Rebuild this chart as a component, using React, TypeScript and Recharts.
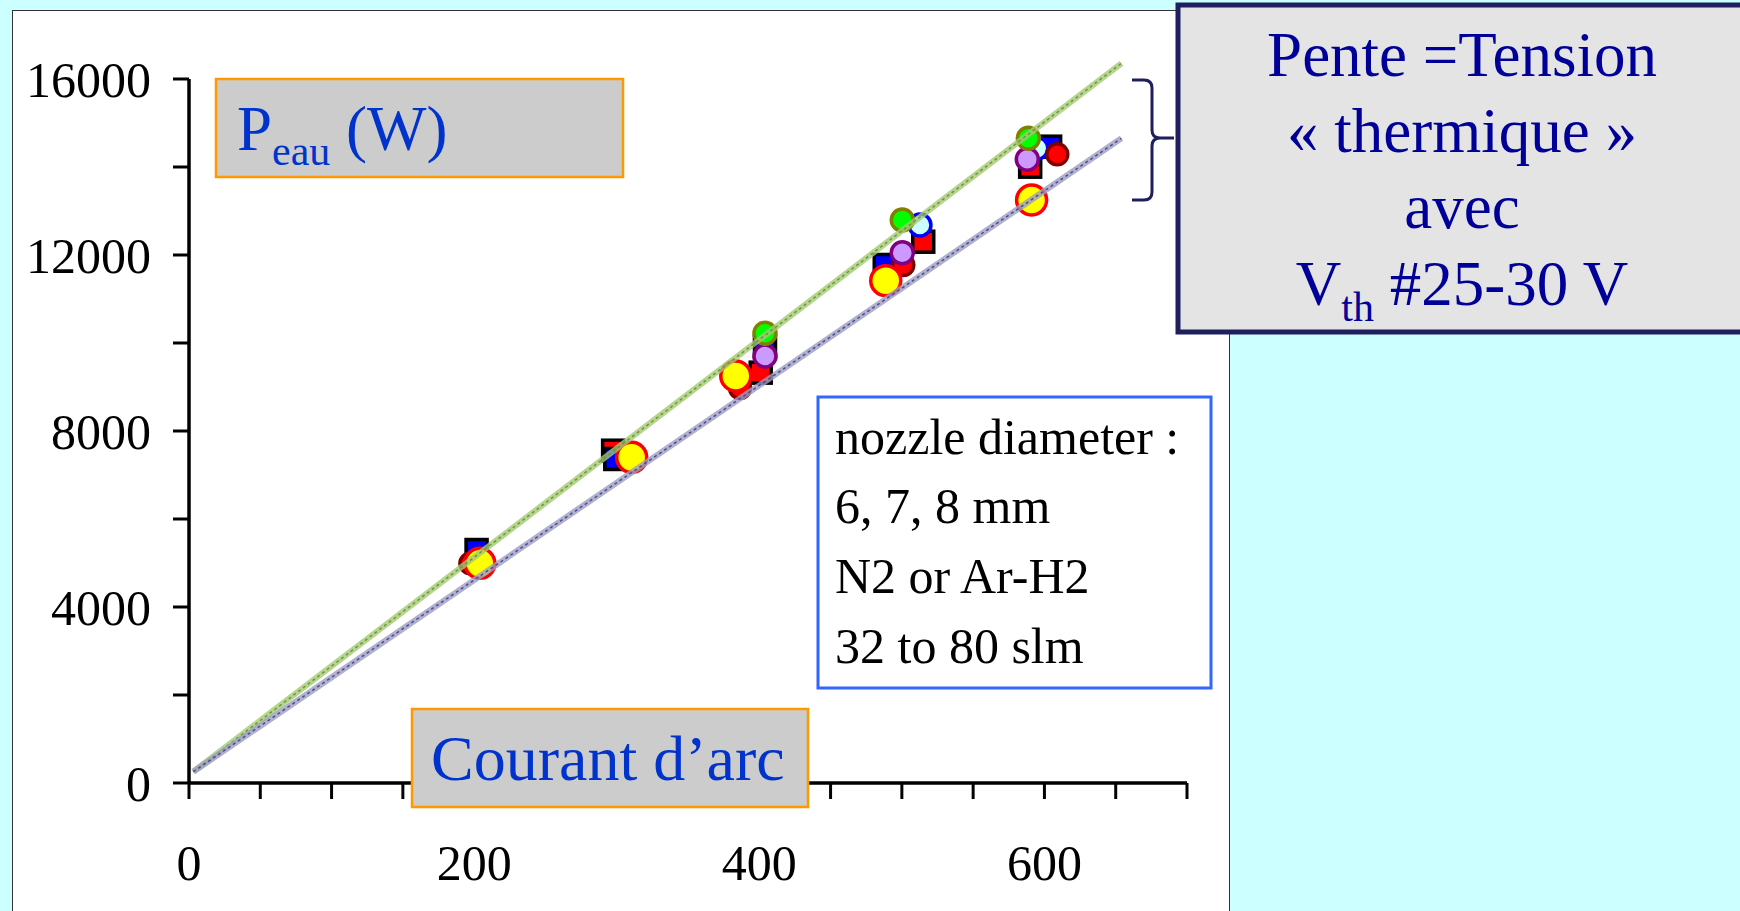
import React from 'react';
import { ScatterChart, Scatter, XAxis, YAxis, ReferenceLine } from 'recharts';

// axis ticks
const xTicks = [0, 50, 100, 150, 200, 250, 300, 350, 400, 450, 500, 550, 600, 650, 700];
const yTicks = [0, 2000, 4000, 6000, 8000, 10000, 12000, 14000, 16000];
const xLabelTicks = [0, 200, 400, 600];
const yLabelTicks = [0, 4000, 8000, 12000, 16000];

// measured points, arc current (A) vs water power (W)
const redSquares = [
    { x: 297.5, y: 7552 },
    { x: 401, y: 9326 },
    { x: 515, y: 12302 },
    { x: 590, y: 14007 },
];
const blueSquares = [
    { x: 201.7, y: 5295 },
    { x: 299, y: 7364 },
    { x: 404, y: 9917 },
    { x: 488, y: 11773 },
    { x: 604, y: 14462 },
];
const cyanCircles = [
    { x: 512.7, y: 12682 },
    { x: 594.6, y: 14424 },
];
const redCircles = [
    { x: 197.4, y: 4990 },
    { x: 386.5, y: 8977 },
    { x: 501, y: 11773 },
    { x: 609, y: 14288 },
];
const purpleCircles = [
    { x: 404, y: 9705 },
    { x: 500.3, y: 12052 },
    { x: 588, y: 14175 },
];
const greenCircles = [
    { x: 404, y: 10220 },
    { x: 500.3, y: 12795 },
    { x: 588.7, y: 14652 },
];
const yellowCircles = [
    { x: 204, y: 4993 },
    { x: 310.5, y: 7402 },
    { x: 383.5, y: 9250 },
    { x: 488.7, y: 11416 },
    { x: 591, y: 13250 },
];

// the two slope lines
const upperFit = [
    { x: 3, y: 257 },
    { x: 654, y: 16357 },
];
const lowerFit = [
    { x: 3, y: 257 },
    { x: 654, y: 14652 },
];

const serif = '"Liberation Serif", "Times New Roman", serif';

const square = (fill: string) => (props: any) => (
    <rect
        x={props.cx - 10.5}
        y={props.cy - 10.5}
        width={21}
        height={21}
        fill={fill}
        stroke="#000"
        strokeWidth={3.5}
    />
);

const circle = (fill: string, stroke: string, r: number) => (props: any) => (
    <circle cx={props.cx} cy={props.cy} r={r} fill={fill} stroke={stroke} strokeWidth={3.5} />
);

const noMarker = () => <g />;

const App = () => {
    return (
        <div
            style={{
                position: 'absolute',
                left: 0,
                top: 0,
                width: 1740,
                height: 911,
                background: '#CCFFFF',
                overflow: 'hidden',
            }}
        >
            <div
                style={{
                    position: 'absolute',
                    left: 12,
                    top: 10,
                    width: 1218,
                    height: 960,
                    boxSizing: 'border-box',
                    background: '#fff',
                    border: '1.5px solid #333',
                }}
            />
            <div style={{ position: 'absolute', left: 0, top: 0 }}>
                {/* domain runs to 17000 so the upper fit line is not cut; axis line drawn up to 16000 */}
                <ScatterChart
                    width={1740}
                    height={911}
                    margin={{ top: 35, right: 553, bottom: 28, left: 39 }}
                >
                    <XAxis
                        type="number"
                        dataKey="x"
                        domain={[0, 700]}
                        ticks={xTicks}
                        interval={0}
                        height={100}
                        tickSize={16}
                        tickMargin={45}
                        axisLine={{ stroke: '#000', strokeWidth: 3.5 }}
                        tickLine={{ stroke: '#000', strokeWidth: 3 }}
                        tick={{ fill: '#000', fontSize: 50, fontFamily: serif }}
                        tickFormatter={(v: number) => (xLabelTicks.includes(v) ? String(v) : '')}
                    />
                    <YAxis
                        type="number"
                        dataKey="y"
                        domain={[0, 17000]}
                        ticks={yTicks}
                        interval={0}
                        width={150}
                        tickSize={16}
                        tickMargin={22}
                        axisLine={false}
                        tickLine={{ stroke: '#000', strokeWidth: 3 }}
                        tick={{ fill: '#000', fontSize: 50, fontFamily: serif }}
                        tickFormatter={(v: number) => (yLabelTicks.includes(v) ? String(v) : '')}
                    />
                    <ReferenceLine
                        segment={[
                            { x: 0, y: 0 },
                            { x: 0, y: 16000 },
                        ]}
                        stroke="#000"
                        strokeWidth={3.5}
                    />
                    <Scatter data={redSquares} shape={square('#FF0000')} isAnimationActive={false} />
                    <Scatter data={blueSquares} shape={square('#0000FF')} isAnimationActive={false} />
                    <Scatter data={cyanCircles} shape={circle('#CCFFFF', '#0000FF', 11)} isAnimationActive={false} />
                    <Scatter data={redCircles} shape={circle('#FF0000', '#800000', 10.5)} isAnimationActive={false} />
                    <Scatter data={purpleCircles} shape={circle('#CC99FF', '#800080', 11)} isAnimationActive={false} />
                    <Scatter data={greenCircles} shape={circle('#00FF00', '#808000', 11)} isAnimationActive={false} />
                    <Scatter data={yellowCircles} shape={circle('#FFFF00', '#FF0000', 15)} isAnimationActive={false} />
                    <Scatter
                        data={upperFit}
                        line={{ stroke: '#A3CB70', strokeWidth: 6, strokeOpacity: 0.8 }}
                        shape={noMarker}
                        isAnimationActive={false}
                    />
                    <Scatter
                        data={upperFit}
                        line={{ stroke: '#6F9446', strokeWidth: 1.5, strokeDasharray: '3 3' }}
                        shape={noMarker}
                        isAnimationActive={false}
                    />
                    <Scatter
                        data={lowerFit}
                        line={{ stroke: '#9C9CC4', strokeWidth: 6, strokeOpacity: 0.8 }}
                        shape={noMarker}
                        isAnimationActive={false}
                    />
                    <Scatter
                        data={lowerFit}
                        line={{ stroke: '#4E4E86', strokeWidth: 1.5, strokeDasharray: '3 3' }}
                        shape={noMarker}
                        isAnimationActive={false}
                    />
                </ScatterChart>
            </div>
            <svg
                width={1740}
                height={911}
                style={{ position: 'absolute', left: 0, top: 0 }}
                fontFamily={serif}
            >
                {/* y axis title */}
                <rect x={216} y={79} width={407} height={98} fill="#CCCCCC" stroke="#FF9900" strokeWidth={2.5} />
                <text x={237} y={150} fontSize={63} fill="#0033CC">
                    P
                    <tspan fontSize={42} dy={15}>eau</tspan>
                    <tspan dy={-15}> (W)</tspan>
                </text>

                {/* x axis title */}
                <rect x={412} y={709} width={396} height={98} fill="#CCCCCC" stroke="#FF9900" strokeWidth={2.5} />
                <text x={431} y={780} fontSize={64} fill="#0033CC">
                    Courant d’arc
                </text>

                {/* conditions */}
                <rect x={818} y={397} width={393} height={291} fill="#fff" stroke="#3366FF" strokeWidth={3} />
                <text x={835} fontSize={50} fill="#000">
                    <tspan x={835} y={454}>nozzle diameter :</tspan>
                    <tspan x={835} y={523}>6, 7, 8 mm</tspan>
                    <tspan x={835} y={593}>N2 or Ar-H2</tspan>
                    <tspan x={835} y={663}>32 to 80 slm</tspan>
                </text>

                {/* brace */}
                <path
                    d="M1132,80 L1144,80 Q1152,80 1152,88 L1152,130 Q1152,138 1160,138 L1174,138 M1160,138 Q1152,138 1152,146 L1152,192 Q1152,200 1144,200 L1132,200"
                    fill="none"
                    stroke="#1F1F5F"
                    strokeWidth={3}
                />

                {/* slope note */}
                <rect x={1178} y={5} width={620} height={327} fill="#E4E4E4" stroke="#1F1F5F" strokeWidth={5} />
                <text fontSize={63} fill="#000099" textAnchor="middle">
                    <tspan x={1462} y={76}>Pente =Tension</tspan>
                    <tspan x={1462} y={152}>« thermique »</tspan>
                    <tspan x={1462} y={228}>avec</tspan>
                </text>
                <text x={1462} y={305} fontSize={63} fill="#000099" textAnchor="middle">
                    V
                    <tspan fontSize={42} dy={16}>th</tspan>
                    <tspan dy={-16}> #25-30 V</tspan>
                </text>
            </svg>
        </div>
    );
};

export default App;
